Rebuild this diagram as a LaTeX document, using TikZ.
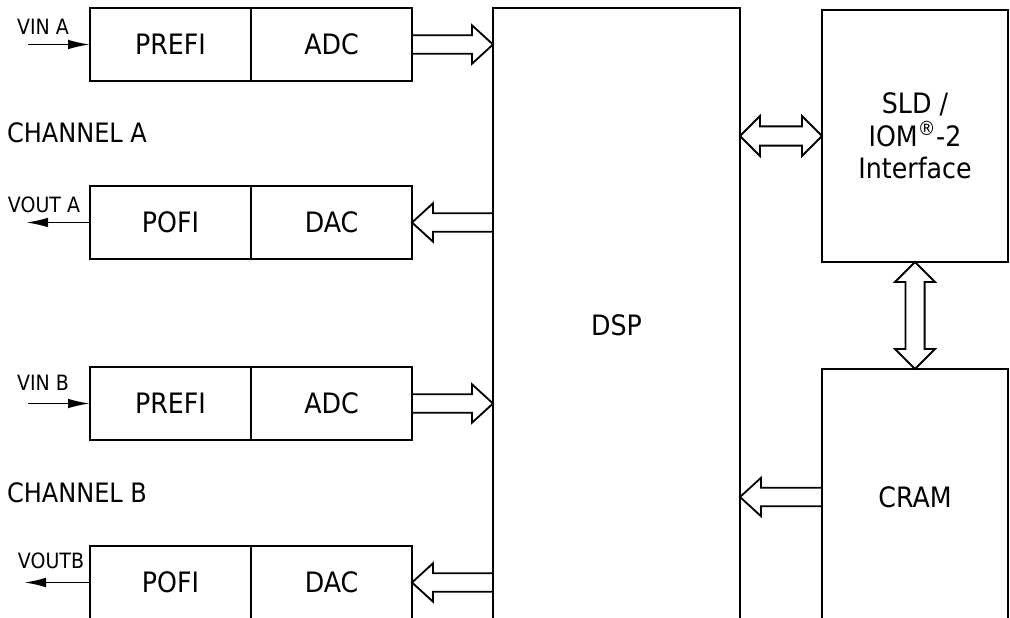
\documentclass[tikz,border=0pt]{standalone}
\usepackage{fontspec}
\setmainfont{DejaVu Sans Condensed}
\usetikzlibrary{calc,positioning,arrows.meta}

% hollow bus arrow, tip at #2
\newcommand{\busarrow}[2]{%
  \coordinate (bA) at (#1); \coordinate (bB) at (#2);
  \coordinate (bH) at ($(bB)!5.25mm!(bA)$);
  \draw[bus] ($(bA)!2.3mm!90:(bB)$) -- ($(bH)!2.3mm!-90:(bA)$) -- ($(bH)!4.8mm!-90:(bA)$)
    -- (bB) -- ($(bH)!4.8mm!90:(bA)$) -- ($(bH)!2.3mm!90:(bA)$) -- ($(bA)!2.3mm!-90:(bB)$);}
% hollow bus arrow, tips at both ends
\newcommand{\busboth}[2]{%
  \coordinate (bA) at (#1); \coordinate (bB) at (#2);
  \coordinate (bH) at ($(bA)!5mm!(bB)$);
  \coordinate (bK) at ($(bB)!5mm!(bA)$);
  \draw[bus] (bA) -- ($(bH)!5mm!90:(bB)$) -- ($(bH)!2.4mm!90:(bB)$) -- ($(bK)!2.4mm!-90:(bA)$)
    -- ($(bK)!5mm!-90:(bA)$) -- (bB) -- ($(bK)!5mm!90:(bA)$) -- ($(bK)!2.4mm!90:(bA)$)
    -- ($(bH)!2.4mm!-90:(bB)$) -- ($(bH)!5mm!-90:(bB)$) -- cycle;}

\begin{document}
\begin{tikzpicture}[x=0.25mm, y=-0.25mm,
  block/.style={draw, line width=1.3pt, minimum width=40.25mm, minimum height=18.25mm,
    inner sep=0pt, outer sep=0pt, font=\fontsize{20}{23}\selectfont},
  unit/.style={draw, line width=1.3pt, inner sep=0pt, outer sep=0pt, anchor=north west,
    font=\fontsize{20}{23}\selectfont},
  bus/.style={line width=1.3pt, line join=miter},
  wire/.style={line width=1.3pt, -{Latex[length=5.5mm,width=2.4mm]}},
  sig/.style={inner sep=0pt, font=\fontsize{15}{17}\selectfont},
  chan/.style={inner sep=0pt, font=\fontsize{19}{22}\selectfont}]

  \useasboundingbox (0,0) rectangle (1010,618);
  \clip (0,0) rectangle (1010,618);

  % channel A
  \node[block, anchor=north west] (prefiA) at (90,8) {PREFI};
  \node[block, right=0pt of prefiA] (adcA) {ADC};
  \node[block, anchor=north west] (pofiA) at (90,186) {POFI};
  \node[block, right=0pt of pofiA] (dacA) {DAC};
  \node[chan] (chA) at (77,133) {CHANNEL A};

  % channel B
  \node[block, anchor=north west] (prefiB) at (90,367) {PREFI};
  \node[block, right=0pt of prefiB] (adcB) {ADC};
  \node[block, anchor=north west] (pofiB) at (90,546) {POFI};
  \node[block, right=0pt of pofiB] (dacB) {DAC};
  \node[chan] (chB) at (77,493) {CHANNEL B};

  % DSP, interface, CRAM
  \node[unit, minimum width=61.75mm, minimum height=158.5mm] (dsp) at (493,8) {DSP};
  \node[unit, minimum width=46.5mm, minimum height=63mm, align=center] (sld) at (822,10)
    {SLD /\\ IOM\textsuperscript{®}-2\\Interface};
  \node[unit, minimum width=46.5mm, minimum height=64mm] (cram) at (822,369) {CRAM};

  % analog inputs and outputs
  \coordinate (inA) at ($(prefiA.west)+(-62,0)$);
  \coordinate (outA) at ($(pofiA.west)+(-64,0)$);
  \coordinate (inB) at ($(prefiB.west)+(-62,0)$);
  \coordinate (outB) at ($(pofiB.west)+(-66,0)$);
  \draw[wire] (inA) -- (prefiA.west);
  \draw[wire] (pofiA.west) -- (outA);
  \draw[wire] (inB) -- (prefiB.west);
  \draw[wire] (pofiB.west) -- (outB);
  \node[sig] (vinA) at (43,27) {VIN A};
  \node[sig] (voutA) at (44,205) {VOUT A};
  \node[sig] (vinB) at (43,383) {VIN B};
  \node[sig] (voutB) at (51,561) {VOUTB};

  % buses
  \busarrow{adcA.east}{adcA.east -| dsp.west}
  \busarrow{dacA.east -| dsp.west}{dacA.east}
  \busarrow{adcB.east}{adcB.east -| dsp.west}
  \busarrow{dacB.east -| dsp.west}{dacB.east}
  \busarrow{cram.west}{cram.west -| dsp.east}
  \busboth{sld.west -| dsp.east}{sld.west}
  \busboth{sld.south}{cram.north}

\end{tikzpicture}
\end{document}
